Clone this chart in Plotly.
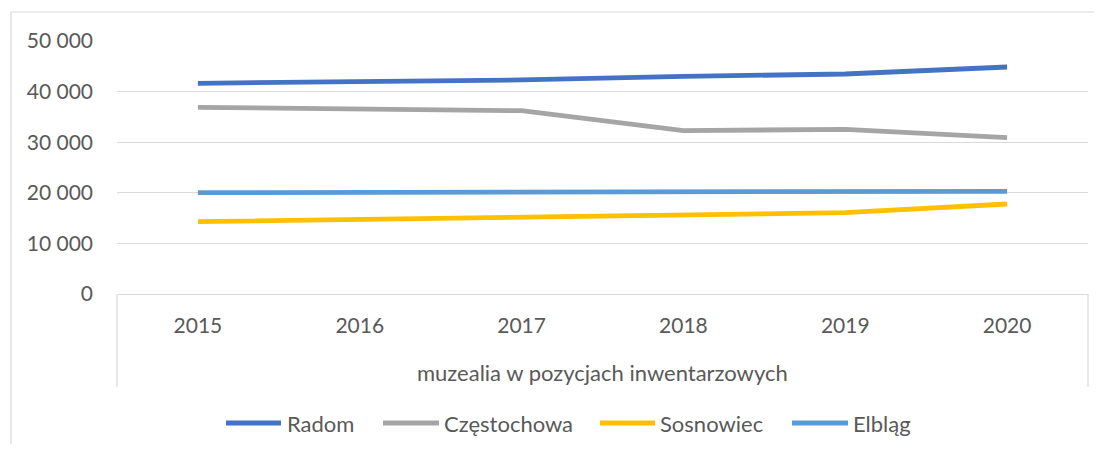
import plotly.graph_objects as go

years = ["2015", "2016", "2017", "2018", "2019", "2020"]
radom = [41640, 41960, 42300, 43000, 43480, 44860]
czestochowa = [36900, 36560, 36230, 32280, 32550, 30900]
sosnowiec = [14290, 14680, 15150, 15610, 16070, 17790]
elblag = [20020, 20060, 20290, 20290, 20290, 20300]
series_names = ["Radom", "Częstochowa", "Sosnowiec", "Elbląg"]
colors = ["#4472C4", "#A5A5A5", "#FFC000", "#5B9BD5"]
outer_label = "muzealia w pozycjach inwentarzowych"
y_ticks = [0, 10000, 20000, 30000, 40000, 50000]

TXT = "#595959"
GRID = "#D9D9D9"
FONT = "Lato"

fig = go.Figure()
for name, vals, c in zip(series_names, [radom, czestochowa, sosnowiec, elblag], colors):
    fig.add_trace(go.Scatter(x=years, y=vals, mode="lines", name=name,
                             line=dict(color=c, width=4.8), showlegend=False))

# page has an 8px body margin; compensate
OFF = 8
W, H = 1086, 436
L, T = 117 - OFF, 41 - OFF
R = W - (1088 - OFF)
B = H - (294 - OFF)
pw = W - L - R
ph = H - T - B


def px_x(x):
    return (x - OFF - L) / pw


def px_y(y):
    return (H - B - (y - OFF)) / ph


shapes = [
    dict(type="line", xref="paper", yref="paper", x0=0, x1=0, y0=0, y1=px_y(387),
         line=dict(color=GRID, width=1.2)),
    dict(type="line", xref="paper", yref="paper", x0=1, x1=1, y0=0, y1=px_y(387),
         line=dict(color=GRID, width=1.2)),
    dict(type="rect", xref="paper", yref="paper", x0=px_x(11), x1=px_x(1130),
         y0=px_y(480), y1=px_y(12), line=dict(color=GRID, width=1.2)),
]

# manual legend (line start, line end, text start) in page pixels
legend_pos = [(226, 281, 285), (383, 439, 442), (600, 655, 658), (792, 848, 851)]
legend_y = 423
annotations = [dict(text=outer_label, xref="paper", yref="paper", x=0.5, y=px_y(372),
                    xanchor="center", yanchor="middle", showarrow=False,
                    font=dict(family=FONT, size=22, color=TXT))]
for (x0, x1, xt), name, c in zip(legend_pos, series_names, colors):
    shapes.append(dict(type="line", xref="paper", yref="paper", x0=px_x(x0), x1=px_x(x1),
                       y0=px_y(legend_y), y1=px_y(legend_y),
                       line=dict(color=c, width=4.8)))
    annotations.append(dict(text=name, xref="paper", yref="paper", x=px_x(xt), y=px_y(legend_y),
                            xanchor="left", yanchor="middle", showarrow=False,
                            font=dict(family=FONT, size=22, color=TXT)))

fig.update_layout(
    width=W, height=H,
    margin=dict(l=L, r=R, t=T, b=B),
    paper_bgcolor="white", plot_bgcolor="white",
    separators=", ",
    showlegend=False,
    font=dict(family=FONT, size=21, color=TXT),
    xaxis=dict(type="category", range=[-0.5, 5.5], showgrid=False,
               showline=True, linecolor=GRID, linewidth=1.2,
               ticks="", ticklabelstandoff=13,
               tickfont=dict(family=FONT, size=21, color=TXT)),
    yaxis=dict(range=[0, 50000], tickvals=y_ticks, tickformat=",d",
               showgrid=True, gridcolor=GRID, gridwidth=1.2,
               zeroline=False, showline=False, ticks="",
               ticklabelstandoff=23,
               tickfont=dict(family=FONT, size=21, color=TXT)),
    shapes=shapes,
    annotations=annotations,
)

fig.write_html("out.html")
